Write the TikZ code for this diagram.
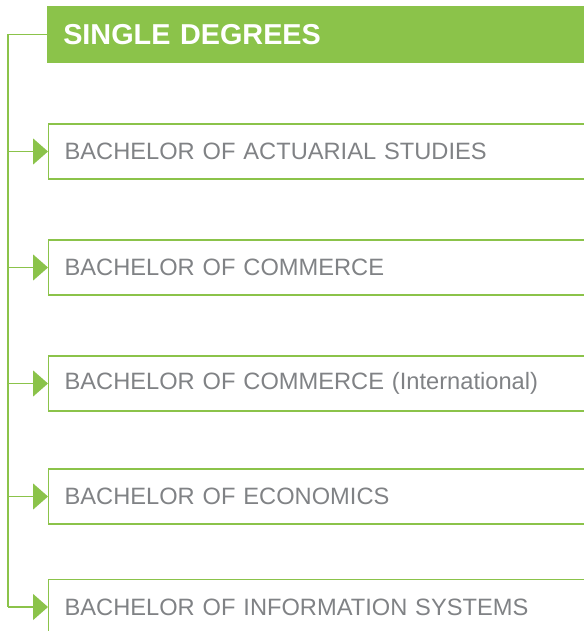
\documentclass[tikz,border=0pt]{standalone}
\usepackage{fontspec}
\setmainfont{Liberation Sans}
\usetikzlibrary{positioning, calc}
\usetikzlibrary{arrows.meta}
\definecolor{degreegreen}{HTML}{8BC34A}
\definecolor{degreegrey}{HTML}{808285}
\tikzset{>={Triangle[width=19.5pt,length=11.25pt]}}
\tikzset{
  heading/.style={fill=degreegreen, anchor=west, minimum width=420pt,
    minimum height=42.75pt, inner xsep=12pt, text width=396pt, align=left,
    text=white, font={\fontsize{21.6pt}{24pt}\selectfont\bfseries}},
  degree/.style={draw=degreegreen, line width=0.9pt, anchor=west,
    minimum width=420pt, minimum height=41.25pt, inner xsep=12pt,
    text width=396pt, align=left, text=degreegrey,
    font={\fontsize{17.75pt}{20pt}\selectfont}},
  spine/.style={draw=degreegreen, line width=1pt}
}

\begin{document}
\begin{tikzpicture}[x=0.75pt, y=-0.75pt]
     \useasboundingbox (0,0) rectangle (584,631);
     \node[heading] (heading) at (47,34.5) {SINGLE DEGREES};
     \coordinate (top) at (8,34.5);

     \foreach \i/\y/\name in {1/151.5/BACHELOR OF ACTUARIAL STUDIES,
                              2/267.5/BACHELOR OF COMMERCE,
                              3/383.5/BACHELOR OF COMMERCE (International),
                              4/496.5/BACHELOR OF ECONOMICS,
                              5/607/BACHELOR OF INFORMATION SYSTEMS}
       \node[degree] (deg-\i) at (48,\y) {\name};

     %% spine and arrows
     \draw[spine] (heading.west) -- (top) -- (top |- deg-5.west);
     \foreach \i in {1,...,5}
       \draw[spine, ->, fill=degreegreen] (top |- deg-\i.west) -- (deg-\i.west);
\end{tikzpicture}
\end{document}
